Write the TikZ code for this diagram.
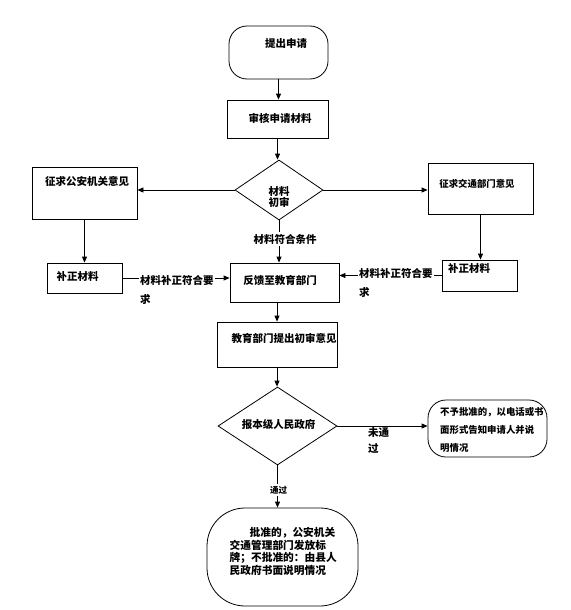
\documentclass[tikz,border=0pt]{standalone}
\usepackage{fontspec}
\setmainfont{Noto Sans CJK SC}
\usetikzlibrary{arrows.meta,shapes.geometric}
\begin{document}
\begin{tikzpicture}[x=1pt,y=-1pt,
  box/.style={draw, line width=0.8pt, inner sep=0pt, rectangle},
  termbox/.style={draw, line width=0.8pt, inner sep=0pt, rectangle, rounded corners=#1},
  dia/.style={draw, line width=0.8pt, inner sep=0pt, diamond},
  txt/.style={inner sep=0pt, font=\fontsize{10.5}{12}\selectfont\bfseries},
  smalltxt/.style={inner sep=0pt, font=\fontsize{9.4}{18}\selectfont\bfseries, align=left},
  conn/.style={line width=0.8pt, -{Triangle[length=6pt,width=5pt]}},
  lbl/.style={inner sep=1.5pt, fill=white, font=\fontsize{10.5}{19}\selectfont\bfseries, align=left}
]
\useasboundingbox (0,0) rectangle (570,610);

% shapes
\node[termbox=18pt, minimum width=99pt, minimum height=53pt] (start) at (278.5,52.5) {};
\node[box, minimum width=101pt, minimum height=38pt] (review) at (277.5,119) {};
\node[dia, minimum width=88pt, minimum height=60pt] (d1) at (279,190) {};
\node[box, minimum width=105pt, minimum height=52pt] (police) at (84.5,193) {};
\node[box, minimum width=105pt, minimum height=51pt] (traffic) at (480.5,188.5) {};
\node[box, minimum width=75pt, minimum height=30pt] (fixL) at (84.5,278) {};
\node[box, minimum width=75pt, minimum height=31pt] (fixR) at (479.5,275.5) {};
\node[box, minimum width=109pt, minimum height=39pt] (fb) at (284.5,282.5) {};
\node[box, minimum width=120pt, minimum height=45pt] (edu) at (277,344.5) {};
\node[dia, minimum width=119pt, minimum height=78pt] (d2) at (277.5,426) {};
\node[termbox=18pt, minimum width=119pt, minimum height=57pt] (reject) at (487.5,428.5) {};
\node[termbox=38pt, minimum width=151pt, minimum height=98pt] (approve) at (282.5,557) {};

% texts
\node[txt] (t1) at (286,44) {提出申请};
\node[txt] (t2) at (280,118) {审核申请材料};
\node[txt, align=center, font=\fontsize{10.5}{10.5}\selectfont\bfseries] (t3) at (279,197) {材料\\初审};
\node[txt] (t4) at (87,181) {征求公安机关意见};
\node[txt, font=\fontsize{9.4}{11}\selectfont\bfseries] (t5) at (477,184) {征求交通部门意见};
\node[txt] (t6) at (77.5,276) {补正材料};
\node[txt] (t7) at (469,268) {补正材料};
\node[txt] (t8) at (280,280) {反馈至教育部门};
\node[txt] (t9) at (284,338) {教育部门提出初审意见};
\node[txt] (t10) at (278.5,424) {报本级人民政府};
\node[smalltxt, anchor=west] (t11) at (440,430) {不予批准的，以电话或书\\面形式告知申请人并说\\明情况};
\node[inner sep=0pt, anchor=north west, align=left, font=\fontsize{10.7}{12.6}\selectfont\bfseries] (t12) at (229.5,527) {\hspace*{20pt}批准的，公安机关\\交通管理部门发放标\\牌；不批准的：由县人\\民政府书面说明情况};

% connectors
\draw[conn] (start.south) -- (start.south |- review.north);
\draw[conn] (review.south) -- (review.south |- d1.north);
\draw[conn] (d1.west) -- (d1.west -| police.east);
\draw[conn] (d1.east) -- (d1.east -| traffic.west);
\draw[conn] (d1.south) -- (d1.south |- fb.north);
\draw[conn] (police.south) -- (fixL.north);
\draw[conn] (traffic.south) -- (traffic.south |- fixR.north);
\draw[conn] (fixL.east) -- (fixL.east -| fb.west);
\draw[conn] (fixR.west) -- (fixR.west -| fb.east);
\draw[conn] (fb.south -| edu.north) -- (edu.north);
\draw[conn] (edu.south) -- (edu.south |- d2.north);
\draw[conn] (d2.east) -- (d2.east -| reject.west);
\draw[conn] (d2.south) -- (d2.south |- approve.north);

% connector labels
\node[lbl, align=center] (l1) at (285,239) {材料符合条件};
\node[lbl, anchor=west] (l2) at (138.5,289.5) {材料补正符合要\\求};
\node[lbl, anchor=west] (l3) at (357.5,283) {材料补正符合要\\求};
\node[inner sep=0pt, anchor=north west, align=left, font=\fontsize{10.5}{16}\selectfont\bfseries] (l4) at (368,427) {未通\\过};
\node[lbl, font=\fontsize{8.5}{10}\selectfont\bfseries] (l5) at (278.5,490) {通过};
\end{tikzpicture}
\end{document}
